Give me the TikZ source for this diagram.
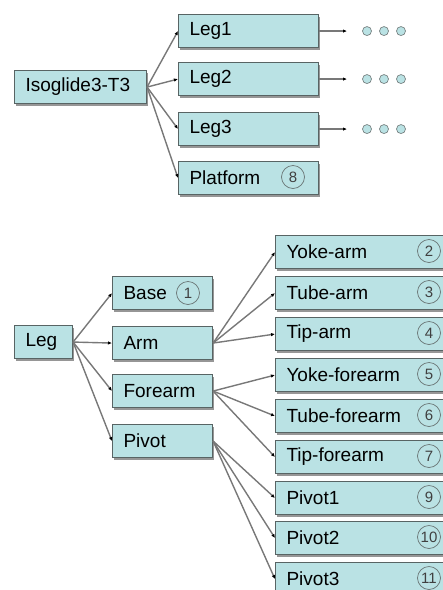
\documentclass[tikz,border=0pt]{standalone}
\usepackage{fontspec}
\setmainfont{Liberation Sans}
\usetikzlibrary{shadows,arrows.meta}
\definecolor{boxfill}{RGB}{186,226,228}
\definecolor{boxline}{RGB}{88,100,100}
\definecolor{shadowgray}{RGB}{150,150,150}
\definecolor{linkgray}{RGB}{120,120,120}
\tikzset{
  box/.style={draw=boxline, line width=1.1pt, fill=boxfill, anchor=north west,
    rectangle, inner xsep=11pt, inner ysep=0pt, minimum height=33pt,
    text width=#1-22pt, align=left, font=\fontsize{19}{19}\selectfont,
    drop shadow={shadow xshift=1.8pt, shadow yshift=-2.2pt, fill=shadowgray, opacity=1}},
  num/.style={circle, draw=boxline!90, line width=0.7pt, inner sep=0pt,
    minimum size=23pt, text=black!75, font=\fontsize{15}{15}\selectfont},
  dot/.style={circle, draw=boxline!80, line width=0.7pt, fill=boxfill, inner sep=0pt,
    minimum size=9pt},
  link/.style={draw=linkgray, line width=1.4pt,
    -{Latex[length=4pt,width=3.5pt,black]}},
}
\begin{document}
\begin{tikzpicture}[x=1pt,y=-1pt]
\useasboundingbox (0,0) rectangle (443,590);

% assembly level
\node[box=132pt] (iso)  at (14,70)  {Isoglide3-T3};
\node[box=140pt] (leg1) at (178,14) {Leg1};
\node[box=140pt] (leg2) at (178,62) {Leg2};
\node[box=140pt] (leg3) at (178,112) {Leg3};
\node[box=140pt] (plat) at (178,161) {Platform};
\node[num] (n8) at (293,177) {8};

\foreach \s in {leg1,leg2,leg3,plat}
  \draw[link] (iso.east) -- (\s.west);

% each leg continues below
\foreach \s in {leg1,leg2,leg3}{
  \coordinate (\s-end) at (\s.east -| 347,0);
  \draw[link] (\s.east) -- (\s-end);
  \node[dot] (\s-a) at (\s.east -| 367,0) {};
  \node[dot] (\s-b) at (\s.east -| 384,0) {};
  \node[dot] (\s-c) at (\s.east -| 401,0) {};
}

% leg level
\node[box=58pt]  (leg)  at (14,325)  {Leg};
\node[box=100pt] (base) at (112,276) {Base};
\node[num] (n1) at (188,293) {1};
\node[box=100pt] (arm)  at (112,326) {Arm};
\node[box=100pt] (fore) at (112,374) {Forearm};
\node[box=100pt] (piv)  at (112,424) {Pivot};

\foreach \s in {base,arm,fore,piv}
  \draw[link] (leg.east) -- (\s.west);

% parts
\foreach \n/\t/\y/\k in {yarm/Yoke-arm/235/2, tarm/Tube-arm/276/3, parm/Tip-arm/317/4,
    yfore/Yoke-forearm/358/5, tfore/Tube-forearm/399/6, pfore/Tip-forearm/440/7,
    piv1/Pivot1/481/9, piv2/Pivot2/521/10, piv3/Pivot3/562/11}{
  \node[box=168pt] (\n) at (275,\y) {\t};
  \node[num] (\n-k) at (429,\y+16) {\k};
}

\foreach \s in {yarm,tarm,parm}
  \draw[link] (arm.east) -- (\s.west);
\foreach \s in {yfore,tfore,pfore}
  \draw[link] (fore.east) -- (\s.west);
\foreach \s in {piv1,piv2,piv3}
  \draw[link] (piv.east) -- (\s.west);
\end{tikzpicture}
\end{document}
